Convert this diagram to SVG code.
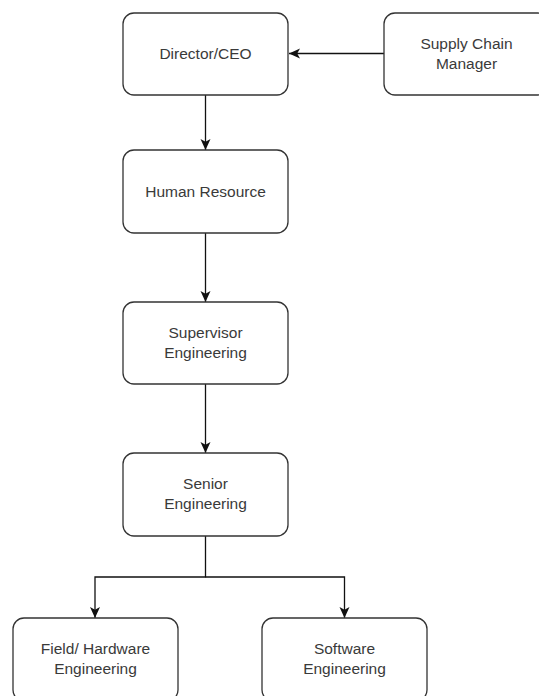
<svg xmlns="http://www.w3.org/2000/svg" width="539" height="696" viewBox="0 0 539 696">
<style>
.box{fill:#fff;stroke:#333;stroke-width:1.3}
.lbl{font-family:"Liberation Sans",Arial,sans-serif;font-size:15.5px;fill:#3a3a3a;text-anchor:middle}
.edge{fill:none;stroke:#111;stroke-width:1.3}
</style>
<defs>
<marker id="arr" markerUnits="userSpaceOnUse" markerWidth="14" markerHeight="14" viewBox="0 0 14 14" refX="12" refY="7" orient="auto">
<path d="M1,2 L12,7 L1,12 L3.8,7 Z" fill="#111"/>
</marker>
</defs>
<rect width="539" height="696" fill="#fff"/>
<g id="connectors">
<path class="edge" d="M384,53.5 H289" marker-end="url(#arr)"/>
<path class="edge" d="M205.5,95 V150" marker-end="url(#arr)"/>
<path class="edge" d="M205.5,233 V302" marker-end="url(#arr)"/>
<path class="edge" d="M205.5,384 V453" marker-end="url(#arr)"/>
<path class="edge" d="M205.5,536 V577 H95 V618" marker-end="url(#arr)"/>
<path class="edge" d="M205.5,577 H344.5 V618" marker-end="url(#arr)"/>
</g>
<g id="director">
<rect class="box" x="123" y="13" width="165" height="82" rx="11"/>
<text class="lbl" x="205.5" y="59">Director/CEO</text>
</g>
<g id="supply">
<rect class="box" x="384" y="13" width="165" height="82" rx="11"/>
<text class="lbl" x="466.5" y="49">Supply Chain</text>
<text class="lbl" x="466.5" y="69">Manager</text>
</g>
<g id="hr">
<rect class="box" x="123" y="150" width="165" height="83" rx="11"/>
<text class="lbl" x="205.5" y="197">Human Resource</text>
</g>
<g id="supervisor">
<rect class="box" x="123" y="302" width="165" height="82" rx="11"/>
<text class="lbl" x="205.5" y="338">Supervisor</text>
<text class="lbl" x="205.5" y="358">Engineering</text>
</g>
<g id="senior">
<rect class="box" x="123" y="453" width="165" height="83" rx="11"/>
<text class="lbl" x="205.5" y="489">Senior</text>
<text class="lbl" x="205.5" y="509">Engineering</text>
</g>
<g id="field">
<rect class="box" x="13" y="618" width="165" height="83" rx="11"/>
<text class="lbl" x="95.5" y="654">Field/ Hardware</text>
<text class="lbl" x="95.5" y="674">Engineering</text>
</g>
<g id="software">
<rect class="box" x="262" y="618" width="165" height="83" rx="11"/>
<text class="lbl" x="344.5" y="654">Software</text>
<text class="lbl" x="344.5" y="674">Engineering</text>
</g>
</svg>
